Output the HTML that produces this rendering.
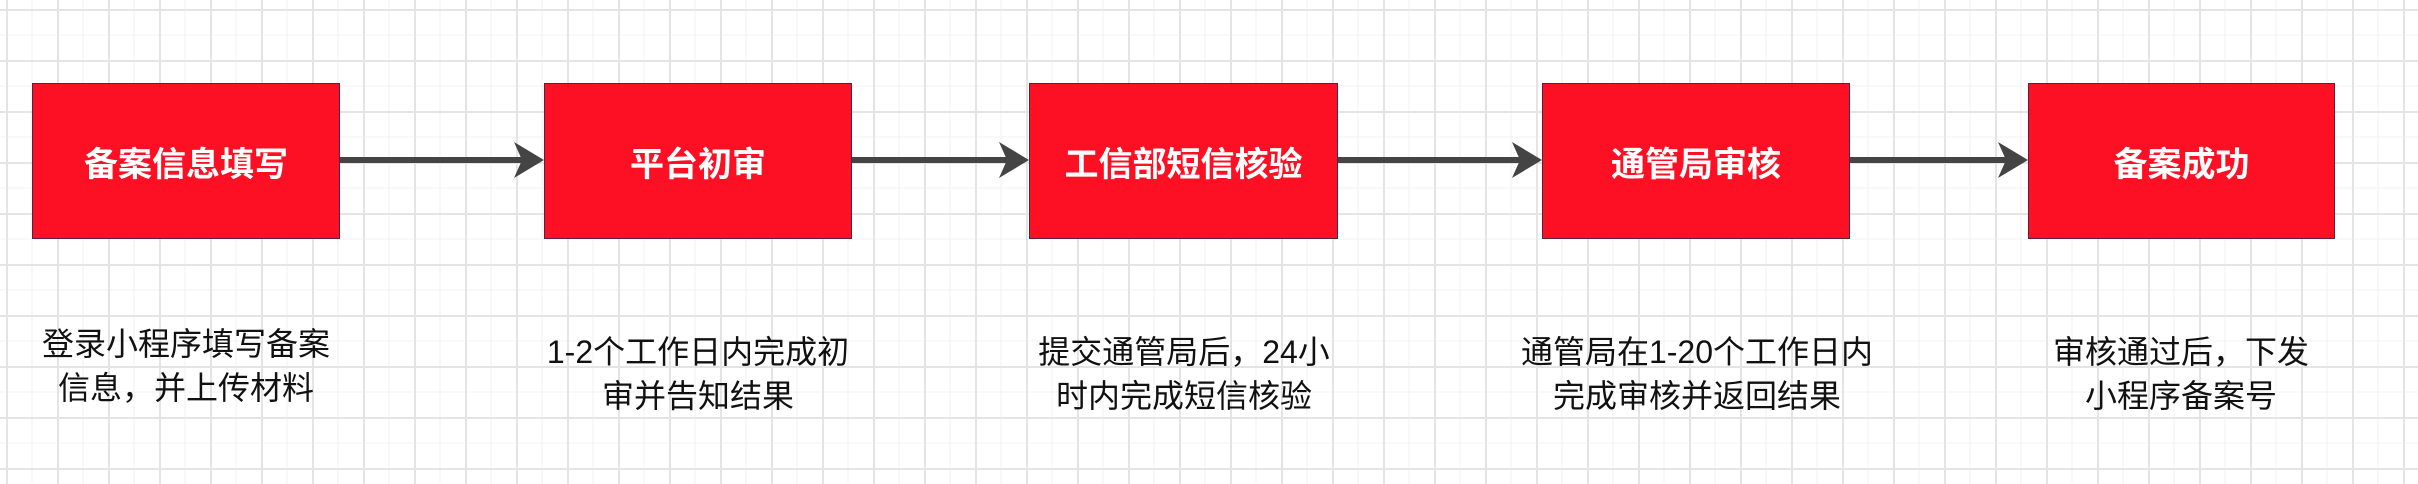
<!DOCTYPE html>
<html><head><meta charset="utf-8"><style>
body{margin:0;width:2418px;height:484px;overflow:hidden;background:#fff;position:relative;
font-family:"Liberation Sans","Noto Sans CJK SC",sans-serif;
background-image:
linear-gradient(to right,#e4e4e4 2px,transparent 2px),
linear-gradient(to bottom,#e4e4e4 2px,transparent 2px),
linear-gradient(to right,#f2f2f2 1px,transparent 1px),
linear-gradient(to bottom,#f2f2f2 1px,transparent 1px);
background-size:51px 51px,51px 51px,25.5px 25.5px,25.5px 25.5px;
background-position:6px 0,0 9px,6px 0,0 9px;}
.b{position:absolute;top:83px;height:156px;width:308px;background:#fe1024;border:1px solid #5a2040;box-sizing:border-box;
color:#fff;font-weight:bold;font-size:34px;display:flex;align-items:center;justify-content:center;}
.t{position:absolute;top:322px;width:420px;text-align:center;font-size:32px;line-height:44px;color:#111;}
svg{position:absolute;left:0;top:0}
</style></head><body>
<svg width="2418" height="484">
<defs><marker id="a" markerWidth="10" markerHeight="10" refX="9" refY="5" orient="auto" markerUnits="userSpaceOnUse" viewBox="0 0 10 10"></marker></defs>
<g stroke="#444" stroke-width="6" fill="#444">
<line x1="340" y1="160" x2="528" y2="160"/><path d="M514 142 L544 160 L514 178 L522 160Z" stroke="none"/>
<line x1="851" y1="160" x2="1013" y2="160"/><path d="M999 142 L1029 160 L999 178 L1007 160Z" stroke="none"/>
<line x1="1338" y1="160" x2="1526" y2="160"/><path d="M1512 142 L1542 160 L1512 178 L1520 160Z" stroke="none"/>
<line x1="1850" y1="160" x2="2012" y2="160"/><path d="M1998 142 L2028 160 L1998 178 L2006 160Z" stroke="none"/>
</g></svg>
<div class="b" style="left:32px">备案信息填写</div>
<div class="b" style="left:544px">平台初审</div>
<div class="b" style="left:1029px;width:309px">工信部短信核验</div>
<div class="b" style="left:1542px">通管局审核</div>
<div class="b" style="left:2028px;width:307px">备案成功</div>
<div class="t" style="left:-24px;top:322px">登录小程序填写备案<br>信息，并上传材料</div>
<div class="t" style="left:488px;top:330px">1-2个工作日内完成初<br>审并告知结果</div>
<div class="t" style="left:974px;top:330px">提交通管局后，24小<br>时内完成短信核验</div>
<div class="t" style="left:1487px;top:330px">通管局在1-20个工作日内<br>完成审核并返回结果</div>
<div class="t" style="left:1971px;top:330px">审核通过后，下发<br>小程序备案号</div>
</body></html>
